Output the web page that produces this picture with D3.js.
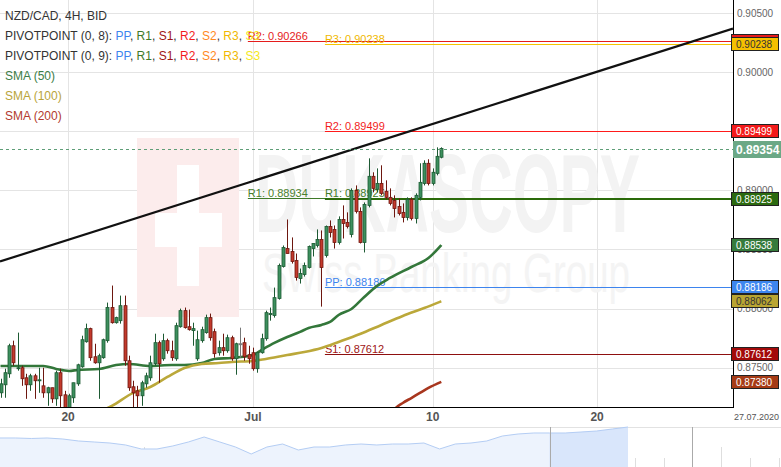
<!DOCTYPE html>
<html><head><meta charset="utf-8">
<script src="https://cdn.jsdelivr.net/npm/d3@7/dist/d3.min.js"></script>
<style>body{margin:0;background:#fff;overflow:hidden}svg{display:block;font-family:"Liberation Sans",Arial,sans-serif}</style>
</head><body><svg id="c" width="781" height="467"></svg>
<script>
// ---------- DATA ----------
const opens=[0.87288,0.87356,0.87449,0.87686,0.87492,0.87500,0.87415,0.87356,0.87432,0.87390,0.87347,0.87288,0.87331,0.87237,0.87458,0.87271,0.87161,0.87246,0.87364,0.87508,0.87720,0.87831,0.87593,0.87542,0.87585,0.87729,0.88009,0.87881,0.87898,0.88025,0.87559,0.87339,0.87305,0.87263,0.87364,0.87415,0.87534,0.87712,0.87576,0.87729,0.87644,0.87576,0.87847,0.87983,0.87847,0.87814,0.87576,0.87729,0.87797,0.87924,0.87805,0.87627,0.87670,0.87644,0.87754,0.87576,0.87703,0.87712,0.87610,0.87627,0.87492,0.87627,0.87746,0.87949,0.87941,0.88085,0.88356,0.88508,0.88483,0.88407,0.88254,0.88288,0.88347,0.88508,0.88534,0.88585,0.88449,0.88695,0.88670,0.88559,0.88754,0.88729,0.88627,0.89000,0.88822,0.88559,0.88873,0.89119,0.89009,0.89059,0.88992,0.88941,0.88915,0.88864,0.88814,0.88771,0.88924,0.88763,0.88941,0.89059,0.89229,0.89059,0.89144,0.89280];
const highs=[0.87407,0.87492,0.87703,0.87729,0.87797,0.87517,0.87449,0.87449,0.87449,0.87500,0.87500,0.87339,0.87331,0.87475,0.87492,0.87305,0.87280,0.87373,0.87534,0.87771,0.87873,0.87839,0.87703,0.87619,0.87746,0.88051,0.88195,0.87932,0.88110,0.88110,0.87602,0.87390,0.87347,0.87390,0.87458,0.87602,0.87788,0.87729,0.87788,0.87746,0.87729,0.87881,0.88000,0.88009,0.87992,0.87881,0.87814,0.87847,0.87949,0.87958,0.87831,0.87729,0.87788,0.87780,0.87771,0.87712,0.87839,0.87754,0.87686,0.87670,0.87627,0.87788,0.87983,0.88009,0.88178,0.88381,0.88534,0.88754,0.88602,0.88466,0.88339,0.88390,0.88534,0.88551,0.88670,0.88661,0.88703,0.88746,0.88703,0.88780,0.88873,0.88814,0.89017,0.89042,0.88856,0.88898,0.89271,0.89153,0.89186,0.89212,0.89085,0.89017,0.88958,0.88932,0.88890,0.88941,0.88941,0.88975,0.89229,0.89254,0.89263,0.89186,0.89364,0.89364];
const lows=[0.87246,0.87246,0.87415,0.87517,0.87475,0.87347,0.87237,0.87305,0.87237,0.87288,0.87246,0.87178,0.87203,0.87178,0.87161,0.87136,0.87136,0.87203,0.87347,0.87500,0.87712,0.87559,0.87534,0.87237,0.87576,0.87712,0.87873,0.87873,0.87873,0.87517,0.87305,0.87161,0.87161,0.87178,0.87331,0.87390,0.87517,0.87373,0.87559,0.87619,0.87559,0.87559,0.87839,0.87831,0.87814,0.87686,0.87559,0.87712,0.87788,0.87729,0.87585,0.87602,0.87602,0.87627,0.87559,0.87441,0.87585,0.87559,0.87534,0.87475,0.87458,0.87619,0.87729,0.87898,0.87924,0.88076,0.88347,0.88466,0.88381,0.88237,0.88212,0.88271,0.88339,0.88441,0.88517,0.88017,0.88432,0.88602,0.88508,0.88542,0.88593,0.88678,0.88602,0.88805,0.88551,0.88475,0.88856,0.88983,0.88983,0.88958,0.88924,0.88873,0.88771,0.88788,0.88729,0.88746,0.88746,0.88720,0.88915,0.89042,0.89042,0.89042,0.89127,0.89271];
const closes=[0.87364,0.87458,0.87686,0.87542,0.87500,0.87407,0.87356,0.87432,0.87390,0.87398,0.87288,0.87331,0.87237,0.87458,0.87263,0.87161,0.87263,0.87373,0.87525,0.87737,0.87831,0.87585,0.87542,0.87602,0.87737,0.88009,0.87881,0.87924,0.88025,0.87559,0.87331,0.87288,0.87263,0.87373,0.87432,0.87542,0.87712,0.87534,0.87729,0.87644,0.87585,0.87856,0.87983,0.87839,0.87822,0.87831,0.87737,0.87822,0.87924,0.87754,0.87619,0.87670,0.87644,0.87754,0.87576,0.87703,0.87703,0.87593,0.87576,0.87492,0.87627,0.87746,0.87966,0.87958,0.88093,0.88364,0.88517,0.88466,0.88398,0.88263,0.88297,0.88364,0.88525,0.88551,0.88585,0.88347,0.88695,0.88644,0.88559,0.88754,0.88720,0.88695,0.89000,0.88822,0.88559,0.88881,0.89119,0.89017,0.89059,0.88975,0.88941,0.88890,0.88847,0.88805,0.88771,0.88924,0.88763,0.88958,0.89068,0.89229,0.89059,0.89153,0.89288,0.89354];

// SMA readings (candle index, value)
const sma50Idx=[0,10,13,16,18,23,27,30,35,40,43,47,50,54,59,61,64,67,70,72,75,77,79,82,85,88,91,96,100,103];
const sma50=[0.87515,0.87515,0.87490,0.87473,0.87481,0.87490,0.87523,0.87532,0.87515,0.87523,0.87523,0.87540,0.87574,0.87583,0.87608,0.87650,0.87710,0.87760,0.87803,0.87836,0.87862,0.87887,0.87946,0.87997,0.88098,0.88192,0.88259,0.88352,0.88428,0.88538];
const sma100Idx=[23,26,31,35,39,43,47,51,54,59,62,67,71,75,79,84,89,94,99,103];
const sma100=[0.87126,0.87177,0.87287,0.87337,0.87422,0.87498,0.87532,0.87540,0.87549,0.87557,0.87574,0.87608,0.87633,0.87667,0.87718,0.87785,0.87862,0.87938,0.88005,0.88062];
const sma200Idx=[91,92,94,96,98,100,103];
const sma200=[0.87100,0.87147,0.87202,0.87244,0.87287,0.87329,0.87380];

// Pivot levels
const pivot8Names=["R1","R2"], pivot8Values=[0.88934,0.90266], pivot8Start=57.8;
const pivot9Names=["PP","R1","S1","R2","R3"], pivot9Values=[0.88186,0.88925,0.87612,0.89499,0.90238], pivot9Start=75.8;

// Trend line anchors (candle index, price)
const trendIdx=[0,103], trendVal=[0.88400,0.89585];

// Axis ticks
const yTicks=[0.875,0.880,0.885,0.890,0.895,0.900,0.905];
const xTickIdx=[15.8,59,101,139.4], xTickLabels=["20","Jul","10","20"];
const lastDateLabel="27.07.2020";
const lastPrice=0.89354;

// Right-hand value boxes
const boxValues=[0.90266,0.90238,0.89499,0.88925,0.88538,0.88186,0.88062,0.87612,0.87380];

// Navigator overview series
const navValues=[0.87329,0.87329,0.87237,0.87329,0.87145,0.86778,0.86594,0.86410,0.86043,0.85308,0.85308,0.85859,0.86594,0.87513,0.86594,0.85675,0.84389,0.85675,0.86226,0.85124,0.85675,0.85675,0.86043,0.86226,0.86043,0.86226,0.86226,0.86410,0.85308,0.86226,0.86410,0.86778,0.87696,0.88064,0.88248,0.88248,0.88248,0.88431,0.88615,0.88983,0.89350];
const navSelStart=35;

// ---------- STYLES / LAYOUT ----------
const PW=733, PH=407;
const boxStyle=[
 {bg:"#e81a1a",fg:"#fff"},{bg:"#f6c000",fg:"#333"},{bg:"#f31a1a",fg:"#fff"},{bg:"#2b6a10",fg:"#fff"},
 {bg:"#357b3c",fg:"#fff"},{bg:"#3d86ef",fg:"#fff"},{bg:"#b9a532",fg:"#333"},{bg:"#a30a0a",fg:"#fff"},{bg:"#a63b16",fg:"#fff"}];
const pivColors={PP:"#3d84ee",R1:"#3f7a28",S1:"#9e1515",R2:"#f21c1c",S2:"#ff8a1f",R3:"#f0b800",S3:"#f5e81a"};
const lineColors9={PP:"#3d84ee",R1:"#2b6a0a",S1:"#8e0f0f",R2:"#ff1a1a",R3:"#f5c400"};

const svg=d3.select("#c");
const x=d3.scaleLinear().domain([0,103]).range([0.5,441.3]);
const y=d3.scaleLinear().domain([0.87168,0.9061]).range([PH,0]);

svg.append("rect").attr("width",781).attr("height",467).attr("fill","#fff");
svg.append("clipPath").attr("id","pc").append("rect").attr("width",PW).attr("height",PH);

// grid
const grid=svg.append("g");
grid.selectAll(".hg").data(yTicks).join("line").attr("x1",0).attr("x2",PW)
 .attr("y1",d=>Math.round(y(d))+0.5).attr("y2",d=>Math.round(y(d))+0.5).attr("stroke","#e4e4e4");
grid.selectAll(".vg").data(xTickIdx).join("line").attr("y1",0).attr("y2",PH)
 .attr("x1",d=>Math.round(x(d))+0.5).attr("x2",d=>Math.round(x(d))+0.5).attr("stroke","#e4e4e4");

// watermark
const wm=svg.append("g").attr("clip-path","url(#pc)");
wm.append("rect").attr("x",137).attr("y",138).attr("width",102).attr("height",179).attr("fill","#fcecec");
wm.append("rect").attr("x",177).attr("y",165).attr("width",22).attr("height",121).attr("fill","#fff");
wm.append("rect").attr("x",155).attr("y",213).attr("width",67).attr("height",34).attr("fill","#fff");
wm.append("text").attr("x",255).attr("y",232).attr("font-size",112).attr("font-weight","bold")
 .attr("textLength",385).attr("lengthAdjust","spacingAndGlyphs").attr("fill","#f3f3f3").text("DUKASCOPY");
wm.append("text").attr("x",262).attr("y",292).attr("font-size",56)
 .attr("textLength",368).attr("lengthAdjust","spacingAndGlyphs").attr("fill","#f4f4f4").text("Swiss Banking Group");

const plot=svg.append("g").attr("clip-path","url(#pc)");

// pivot lines
function pivotLine(val,start,col,w,lab,labCol){
  const yy=Math.round(y(val))+(w===2?0:0.5);
  plot.append("line").attr("x1",x(start)).attr("x2",PW).attr("y1",yy).attr("y2",yy)
    .attr("stroke",col).attr("stroke-width",w);
  plot.append("text").attr("x",x(start)).attr("y",yy-2).attr("font-size",11).attr("fill",labCol).text(lab);
}
pivot8Names.forEach((n,i)=>pivotLine(pivot8Values[i],pivot8Start,n==="R1"?"#3f7a28":"#e51c1c",1,n+": "+pivot8Values[i].toFixed(5),n==="R1"?"#4a7f2c":"#e52222"));
pivot9Names.forEach((n,i)=>pivotLine(pivot9Values[i],pivot9Start,lineColors9[n],n==="R1"?2:1,n+": "+pivot9Values[i].toFixed(5),pivColors[n]));

// trend line
const tSlope=(trendVal[1]-trendVal[0])/(trendIdx[1]-trendIdx[0]);
const tAt=i=>trendVal[0]+tSlope*(i-trendIdx[0]);
const i0=x.invert(0), i1=x.invert(PW);
plot.append("line").attr("x1",0).attr("y1",y(tAt(i0))).attr("x2",PW).attr("y2",y(tAt(i1)))
 .attr("stroke","#111").attr("stroke-width",2.2);

// SMA lines
const lineGen=d3.line().x(d=>x(d[0])).y(d=>y(d[1])).curve(d3.curveMonotoneX);
[[sma50Idx,sma50,"#33773a"],[sma100Idx,sma100,"#bba83a"],[sma200Idx,sma200,"#a8361e"]].forEach(([ix,v,c])=>{
  plot.append("path").datum(ix.map((d,k)=>[d,v[k]])).attr("d",lineGen).attr("fill","none")
   .attr("stroke",c).attr("stroke-width",2.6);
});

// candles
const cd=opens.map((o,i)=>({i,o,h:highs[i],l:lows[i],c:closes[i]}));
const cg=plot.append("g");
cd.forEach(d=>{
  const up=d.c>d.o, flat=d.c===d.o;
  const fill=flat?"#888":(up?"#3d8f5e":"#c33a2c");
  const dark=flat?"#777":(up?"#1d5a33":"#6d170f");
  const cx=Math.round(x(d.i))+0.5;
  cg.append("line").attr("x1",cx).attr("x2",cx).attr("y1",y(d.h)).attr("y2",y(d.l)).attr("stroke",dark);
  const t=y(Math.max(d.o,d.c)), b=y(Math.min(d.o,d.c));
  cg.append("rect").attr("x",cx-1.5).attr("y",t).attr("width",3).attr("height",Math.max(1,b-t))
   .attr("fill",fill).attr("stroke",dark).attr("stroke-width",0.8);
});

// last price dashed line
plot.append("line").attr("x1",0).attr("x2",PW).attr("y1",Math.round(y(lastPrice))+0.5).attr("y2",Math.round(y(lastPrice))+0.5)
 .attr("stroke","#5f9e78").attr("stroke-dasharray","3,3");

// frame
svg.append("line").attr("x1",PW+0.5).attr("x2",PW+0.5).attr("y1",0).attr("y2",PH+1).attr("stroke","#000");
svg.append("line").attr("x1",0).attr("x2",PW+1).attr("y1",PH+0.5).attr("y2",PH+0.5).attr("stroke","#000");

// y axis labels
svg.selectAll(".yl").data(yTicks).join("text").attr("x",737).attr("y",d=>y(d)+3.5)
 .attr("font-size",10).attr("fill","#666").text(d=>d3.format(".5f")(d));

// x axis labels
svg.selectAll(".xl").data(xTickIdx).join("text").attr("x",d=>x(d)).attr("y",421)
 .attr("text-anchor","middle").attr("font-size",12).attr("font-weight","bold").attr("fill","#555")
 .text((d,i)=>xTickLabels[i]);
svg.append("text").attr("x",779).attr("y",420).attr("text-anchor","end").attr("font-size",9).attr("fill","#555").text(lastDateLabel);

// value boxes
boxValues.forEach((v,k)=>{
  const yy=Math.round(y(v));
  svg.append("rect").attr("x",PW-1.5).attr("y",yy-6.5).attr("width",47).attr("height",13)
    .attr("fill",boxStyle[k].bg).attr("stroke","#222");
  svg.append("text").attr("x",736).attr("y",yy+3.5).attr("font-size",10).attr("fill",boxStyle[k].fg)
    .text(d3.format(".5f")(v));
});
{
  const yy=Math.round(y(lastPrice));
  svg.append("rect").attr("x",PW).attr("y",yy-8).attr("width",48).attr("height",17).attr("fill","#6ba886");
  svg.append("text").attr("x",736).attr("y",yy+4.5).attr("font-size",12).attr("font-weight","bold").attr("fill","#fff")
    .text(d3.format(".5f")(lastPrice));
}

// legend
const lg=svg.append("g").attr("font-size",12).attr("fill","#333");
lg.append("text").attr("x",5).attr("y",20).text("NZD/CAD, 4H, BID");
["PIVOTPOINT (0, 8): ","PIVOTPOINT (0, 9): "].forEach((s,k)=>{
  const t=lg.append("text").attr("x",5).attr("y",40+20*k);
  t.append("tspan").text(s);
  ["PP","R1","S1","R2","S2","R3","S3"].forEach((n,j)=>{
    t.append("tspan").attr("fill",pivColors[n]).text(n);
    if(j<6) t.append("tspan").text(", ");
  });
});
[["SMA (50)","#3d7d46"],["SMA (100)","#b9a43b"],["SMA (200)","#b23b2e"]].forEach(([s,c],k)=>{
  lg.append("text").attr("x",5).attr("y",80+20*k).attr("fill",c).text(s);
});

// navigator
const nx=d3.scaleLinear().domain([0,navValues.length-1]).range([0,628]);
const ny=d3.scaleLinear().domain([0.82,0.8935]).range([467,427]);
const ng=svg.append("g");
ng.append("line").attr("x1",0).attr("x2",781).attr("y1",427.5).attr("y2",427.5).attr("stroke","#e2e2e2");
d3.range(1,28).forEach(k=>{
  const xx=Math.round(k*28.85)+0.5;
  ng.append("line").attr("x1",xx).attr("x2",xx).attr("y1",k%5===0?447:458).attr("y2",467).attr("stroke","#dedede");
});
const area=d3.area().x((d,i)=>nx(i)).y0(467).y1(d=>ny(d));
ng.append("path").datum(navValues).attr("d",area).attr("fill","#edf3fd");
const selVals=navValues.map((d,i)=>[i,d]).filter(d=>d[0]>=navSelStart);
ng.append("path").datum(selVals).attr("d",d3.area().x(d=>nx(d[0])).y0(467).y1(d=>ny(d[1]))).attr("fill","#d9e6fb");
ng.append("path").datum(navValues).attr("d",d3.line().x((d,i)=>nx(i)).y(d=>ny(d))).attr("fill","none").attr("stroke","#b4cdf4");
ng.append("line").attr("x1",Math.round(nx(navSelStart))+0.5).attr("x2",Math.round(nx(navSelStart))+0.5).attr("y1",427).attr("y2",467).attr("stroke","#aaa");
ng.append("line").attr("x1",692.5).attr("x2",692.5).attr("y1",427).attr("y2",467).attr("stroke","#aaa");
</script></body></html>
